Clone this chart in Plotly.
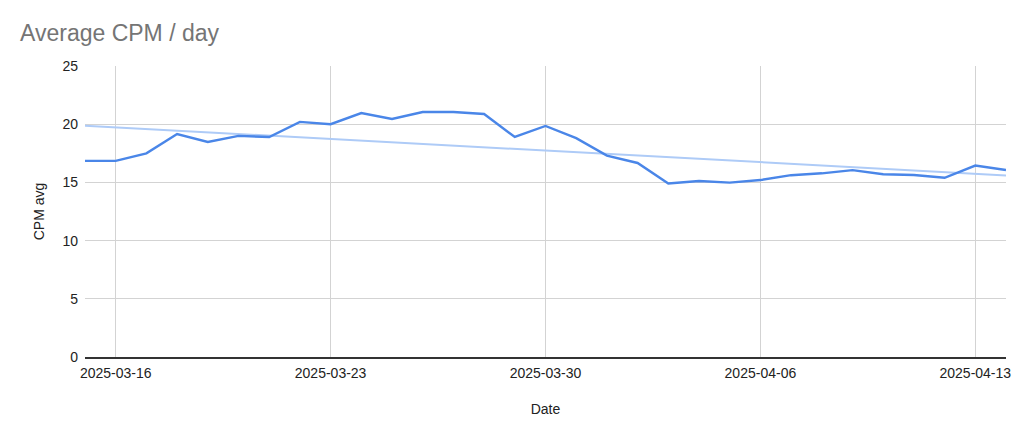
import numpy as np
import pandas as pd
import plotly.graph_objects as go

dates = pd.date_range("2025-03-15", "2025-04-14", freq="D").strftime("%Y-%m-%d").tolist()
cpm_avg = [16.85, 16.85, 17.5, 19.15, 18.47, 19.0, 18.9, 20.2, 20.0, 20.96, 20.45,
           21.05, 21.05, 20.88, 18.9, 19.85, 18.8, 17.3, 16.67, 14.9, 15.12, 14.98,
           15.2, 15.62, 15.78, 16.05, 15.7, 15.64, 15.4, 16.45, 16.07]
x_ticks = ["2025-03-16", "2025-03-23", "2025-03-30", "2025-04-06", "2025-04-13"]
y_ticks = [0, 5, 10, 15, 20, 25]

# linear trendline (least squares over day index)
idx = np.arange(len(cpm_avg))
slope, intercept = np.polyfit(idx, cpm_avg, 1)
trend = (slope * idx + intercept).tolist()

fig = go.Figure()
fig.add_trace(go.Scatter(x=dates, y=trend, mode="lines",
                         line=dict(color="#aecbf7", width=2), hoverinfo="skip",
                         showlegend=False))
fig.add_trace(go.Scatter(x=dates, y=cpm_avg, mode="lines",
                         line=dict(color="#4a86e8", width=2.4), showlegend=False))

font_family = "Liberation Sans, Arial, sans-serif"
fig.update_layout(
    width=1024, height=433,
    margin=dict(l=85, r=18, t=66, b=76),
    paper_bgcolor="white", plot_bgcolor="white",
    font=dict(family=font_family, size=14, color="#222222"),
    title=dict(text="Average CPM / day", x=20 / 1024, xref="container", xanchor="left",
               y=1 - 33 / 433, yref="container", yanchor="middle",
               pad=dict(l=0, r=0, t=0, b=0), automargin=False,
               font=dict(size=23, color="#757575", family=font_family)),
    xaxis=dict(range=["2025-03-15", "2025-04-14"], tickvals=x_ticks, ticktext=x_ticks,
               showgrid=True, gridcolor="#d3d3d3", gridwidth=1,
               showline=True, linecolor="#333333", linewidth=1.5,
               ticks="", ticklabelstandoff=2, automargin=False,
               title=dict(text="Date", standoff=25, font=dict(size=14, color="#222222")),
               zeroline=False),
    yaxis=dict(range=[0, 25], tickvals=y_ticks, showgrid=True, gridcolor="#d3d3d3",
               gridwidth=1, zeroline=False, ticks="", ticklabelstandoff=6, automargin=False,
               title=dict(text="CPM avg", standoff=14, font=dict(size=14, color="#222222"))),
)

fig.write_html("out.html", config={"displayModeBar": False},
               post_script="document.body.style.margin='0px';")
